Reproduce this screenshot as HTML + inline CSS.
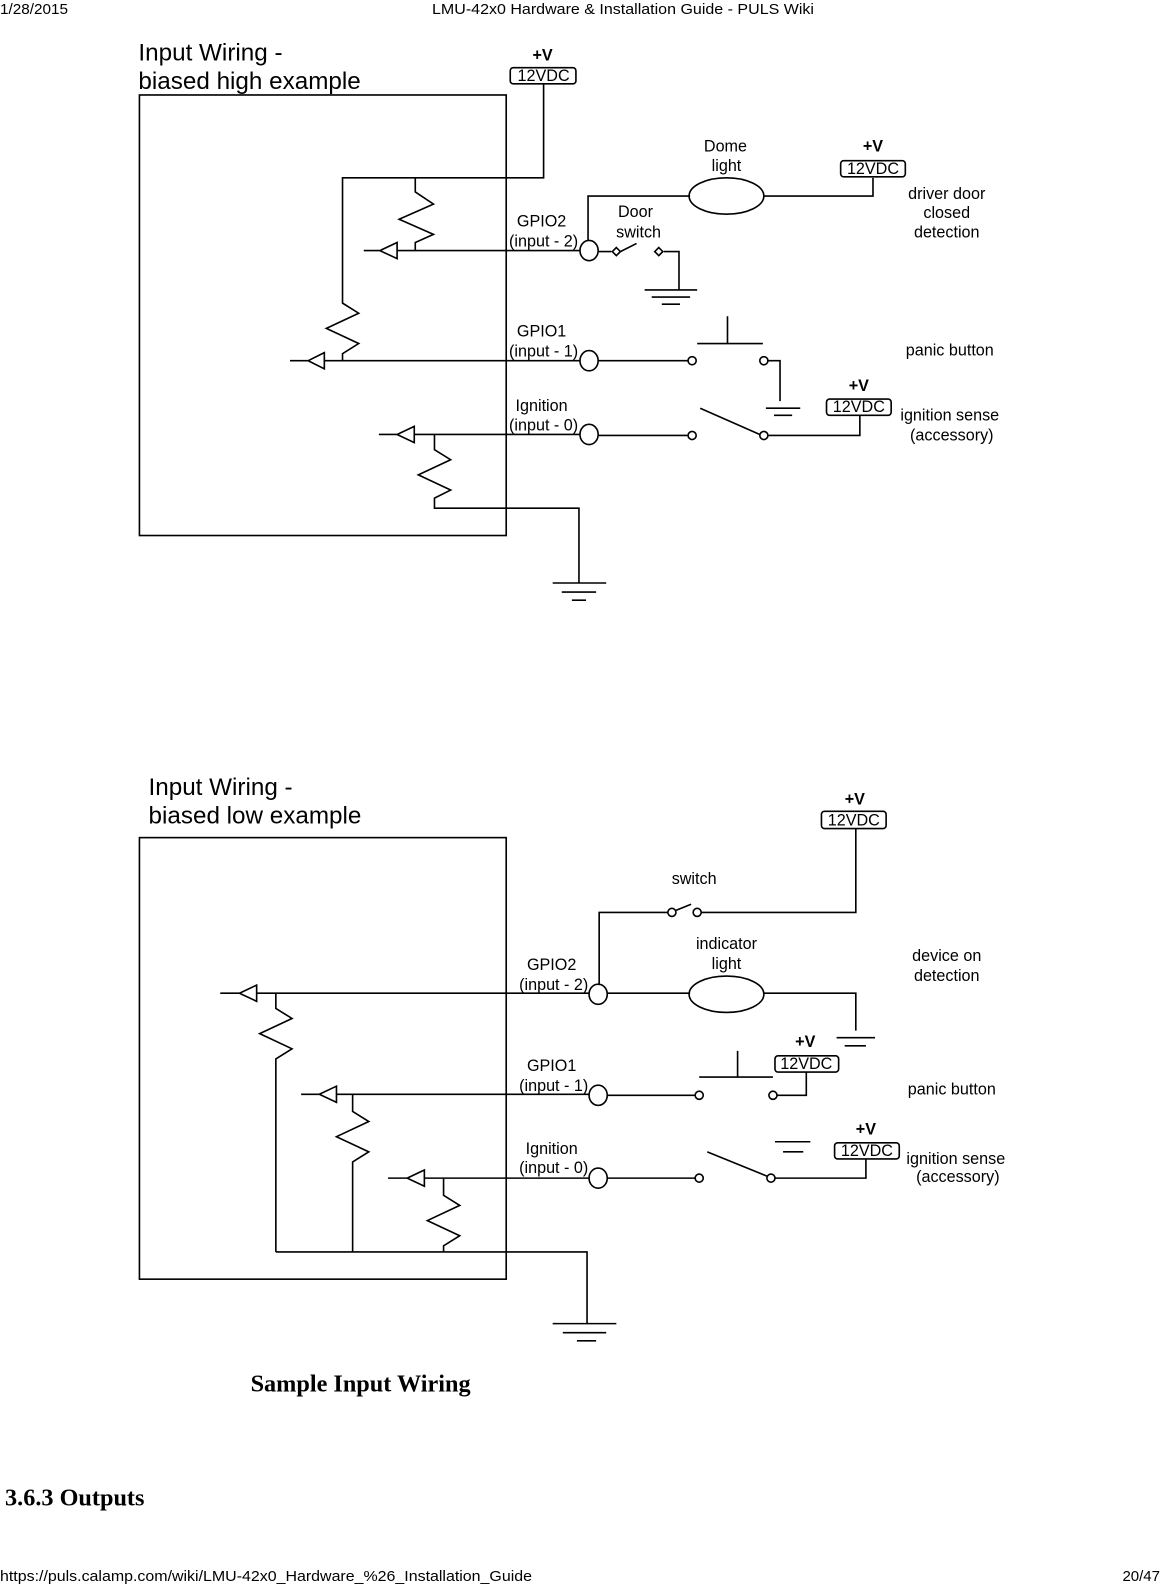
<!DOCTYPE html>
<html><head><meta charset="utf-8"><style>
html,body{margin:0;padding:0;background:#fff}
svg{display:block}
text{font-family:"Liberation Sans",sans-serif;fill:#000}
.s{font-size:16px;text-anchor:middle}
.t{font-size:24px}
.l{stroke:#000;stroke-width:1.6;fill:none}
</style></head><body>
<svg width="1166" height="1584" viewBox="0 0 1166 1584" xmlns="http://www.w3.org/2000/svg">
<text x="0" y="14" style="font-size:15px" textLength="68" lengthAdjust="spacingAndGlyphs">1/28/2015</text>
<text x="432" y="14" style="font-size:15px" textLength="382" lengthAdjust="spacingAndGlyphs">LMU-42x0 Hardware &amp; Installation Guide - PULS Wiki</text>
<text x="0" y="1581" style="font-size:15px" textLength="532" lengthAdjust="spacingAndGlyphs">https://puls.calamp.com/wiki/LMU-42x0_Hardware_%26_Installation_Guide</text>
<text x="1160" y="1581" style="font-size:15px;text-anchor:end">20/47</text>
<g transform="scale(1.0104)">
<!-- TOP DIAGRAM -->
<text class="t" x="137" y="60">Input Wiring -</text>
<text class="t" x="137" y="88">biased high example</text>
<g class="l">
<rect x="138" y="94" width="363" height="436"/>
<rect x="505" y="67" width="65" height="16" rx="3"/>
<path d="M538 83V176H339V300l16 10-32 15 32 15-16 10V357"/>
<path d="M411 176V190l18 12-34 15 34 15-18 8V248"/>
<path d="M360 248H376M393 240L376 248L393 256ZM393 248H574"/>
<path d="M287 357H305M321 349L305 357L321 365ZM321 357H574"/>
<path d="M375 430H393M410 422L393 430L410 438ZM410 430H574"/>
<path d="M430 430V445l16 10-32 15 32 15-16 8V503H573V577"/>
<path d="M547 577H600M556 586H590M566 594H580"/>
<ellipse cx="583" cy="248" rx="9" ry="10"/>
<ellipse cx="583" cy="357" rx="9" ry="10"/>
<ellipse cx="583" cy="430" rx="9" ry="10"/>
<path d="M582 238V194H683"/>
<ellipse cx="719" cy="194" rx="37" ry="18"/>
<path d="M756 194H864V176"/>
<rect x="832" y="159" width="64" height="16" rx="3"/>
<path d="M592 249H605M614 249l16-8M657 249H672V287M638 287H690M645 294H683M655 301H673"/>
<path d="M610 245l4 4-4 4-4-4Z M652 245l4 4-4 4-4-4Z"/>
<path d="M592 357H681"/>
<circle cx="685" cy="357" r="4"/>
<path d="M720 313V340M690 340H755"/>
<circle cx="756" cy="357" r="4"/>
<path d="M760 357H772V397M758 404H792M766 411H784"/>
<path d="M592 431H681"/>
<circle cx="685" cy="431" r="4"/>
<path d="M693 404L752 430"/>
<circle cx="756" cy="431" r="4"/>
<path d="M760 431H851V411"/>
<rect x="818" y="395" width="64" height="16" rx="3"/>
</g>
<text class="s" x="537" y="60" style="font-weight:bold">+V</text>
<text class="s" x="538" y="80">12VDC</text>
<text class="s" x="864" y="150" style="font-weight:bold">+V</text>
<text class="s" x="864" y="172">12VDC</text>
<text class="s" x="850" y="387" style="font-weight:bold">+V</text>
<text class="s" x="850" y="408">12VDC</text>
<text class="s" x="718" y="150">Dome</text>
<text class="s" x="719" y="169">light</text>
<text class="s" x="937" y="197">driver door</text>
<text class="s" x="937" y="216">closed</text>
<text class="s" x="937" y="235">detection</text>
<text class="s" x="536" y="224">GPIO2</text>
<text class="s" x="538" y="244">(input - 2)</text>
<text class="s" x="629" y="215">Door</text>
<text class="s" x="632" y="235">switch</text>
<text class="s" x="536" y="333">GPIO1</text>
<text class="s" x="538" y="353">(input - 1)</text>
<text class="s" x="940" y="352">panic button</text>
<text class="s" x="536" y="407">Ignition</text>
<text class="s" x="538" y="426">(input - 0)</text>
<text class="s" x="940" y="416">ignition sense</text>
<text class="s" x="942" y="436">(accessory)</text>

<!-- BOTTOM DIAGRAM -->
<text class="t" x="147" y="787">Input Wiring -</text>
<text class="t" x="147" y="815">biased low example</text>
<g class="l">
<rect x="138" y="829" width="363" height="437"/>
<rect x="813" y="803" width="64" height="17" rx="3"/>
<path d="M847 820V903H694"/>
<circle cx="690" cy="903" r="4"/><circle cx="665" cy="903" r="4"/>
<path d="M669 901L684 895M661 903H593V975"/>
<path d="M218 983H237M254 975L237 983L254 991ZM254 983H583"/>
<ellipse cx="592" cy="984" rx="9" ry="10"/>
<path d="M601 983H683"/>
<ellipse cx="719" cy="984" rx="37" ry="18"/>
<path d="M756 983H847V1020M828 1027H866M836 1035H857"/>
<path d="M273 983V998l16 10-32 15 32 15-16 10V1239"/>
<path d="M298 1083H316M333 1075L316 1083L333 1091ZM333 1083H583"/>
<path d="M349 1083V1100l16 10-32 15 32 15-16 10V1239"/>
<path d="M384 1166H403M420 1158L403 1166L420 1174ZM420 1166H583"/>
<path d="M439 1166V1183l16 10-32 15 32 15-16 10V1239"/>
<path d="M273 1239H581V1310M547 1310H610M557 1319H600M571 1327H590"/>
<ellipse cx="592" cy="1084" rx="9" ry="10"/>
<ellipse cx="592" cy="1166" rx="9" ry="10"/>
<path d="M601 1084H688"/>
<circle cx="692" cy="1084" r="4"/>
<path d="M730 1040V1066M692 1066H765"/>
<circle cx="765" cy="1084" r="4"/>
<path d="M769 1084H798V1061"/>
<rect x="767" y="1045" width="63" height="16" rx="3"/>
<path d="M601 1166H688"/>
<circle cx="692" cy="1166" r="4"/>
<path d="M700 1140L759 1164"/>
<circle cx="763" cy="1166" r="4"/>
<path d="M767 1166H857V1147"/>
<rect x="826" y="1131" width="64" height="16" rx="3"/>
<path d="M767 1130H802M775 1140H795"/>
</g>
<text class="s" x="846" y="796" style="font-weight:bold">+V</text>
<text class="s" x="845" y="817">12VDC</text>
<text class="s" x="687" y="875">switch</text>
<text class="s" x="719" y="939">indicator</text>
<text class="s" x="719" y="959">light</text>
<text class="s" x="937" y="951">device on</text>
<text class="s" x="937" y="971">detection</text>
<text class="s" x="546" y="960">GPIO2</text>
<text class="s" x="548" y="980">(input - 2)</text>
<text class="s" x="797" y="1036" style="font-weight:bold">+V</text>
<text class="s" x="798" y="1058">12VDC</text>
<text class="s" x="546" y="1060">GPIO1</text>
<text class="s" x="548" y="1080">(input - 1)</text>
<text class="s" x="942" y="1083">panic button</text>
<text class="s" x="857" y="1123" style="font-weight:bold">+V</text>
<text class="s" x="858" y="1144">12VDC</text>
<text class="s" x="546" y="1142">Ignition</text>
<text class="s" x="548" y="1161">(input - 0)</text>
<text class="s" x="946" y="1152">ignition sense</text>
<text class="s" x="948" y="1170">(accessory)</text>

<text x="248" y="1377" style="font-family:'Liberation Serif',serif;font-weight:bold;font-size:24px">Sample Input Wiring</text>
<text x="5" y="1490" style="font-family:'Liberation Serif',serif;font-weight:bold;font-size:24px">3.6.3 Outputs</text>
</g>
</svg>
</body></html>
